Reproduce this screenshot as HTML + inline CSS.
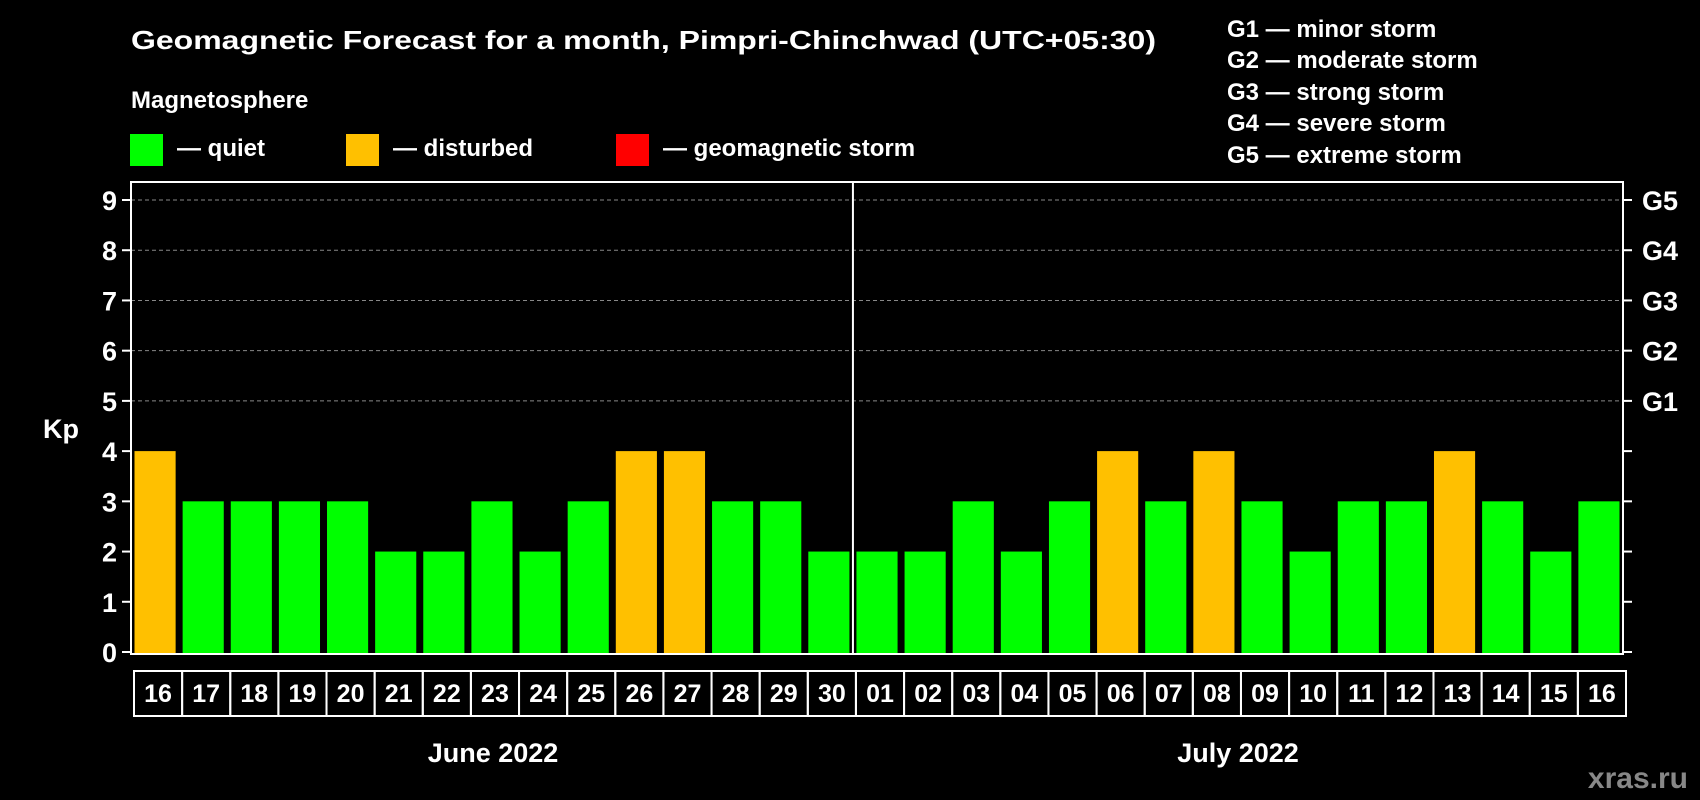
<!DOCTYPE html>
<html><head><meta charset="utf-8"><style>
html,body{margin:0;padding:0;background:#000;}
svg{display:block;font-family:"Liberation Sans",Arial,sans-serif;font-weight:bold;}
</style></head><body>
<svg id="chart" width="1700" height="800" viewBox="0 0 1700 800" xmlns="http://www.w3.org/2000/svg">
<rect width="1700" height="800" fill="#000"/>
<text x="131" y="49" fill="#fff" font-size="26" textLength="1025" lengthAdjust="spacingAndGlyphs">Geomagnetic Forecast for a month, Pimpri-Chinchwad (UTC+05:30)</text>
<text x="131" y="108" fill="#fff" font-size="24">Magnetosphere</text>
<rect x="130" y="134" width="33" height="32" fill="#00ff00"/>
<text x="177" y="156" fill="#fff" font-size="24">— quiet</text>
<rect x="346" y="134" width="33" height="32" fill="#ffc000"/>
<text x="393" y="156" fill="#fff" font-size="24">— disturbed</text>
<rect x="616" y="134" width="33" height="32" fill="#ff0000"/>
<text x="663" y="156" fill="#fff" font-size="24">— geomagnetic storm</text>
<g fill="#fff" font-size="24">
<text x="1227" y="37">G1 — minor storm</text>
<text x="1227" y="68">G2 — moderate storm</text>
<text x="1227" y="100">G3 — strong storm</text>
<text x="1227" y="131">G4 — severe storm</text>
<text x="1227" y="163">G5 — extreme storm</text>
</g>
<text x="43" y="438" fill="#fff" font-size="27">Kp</text>
<g id="grid"></g>
<g id="bars"></g>
<g id="axes"></g>
<text x="493" y="762" fill="#fff" font-size="27" text-anchor="middle">June 2022</text>
<text x="1238" y="762" fill="#fff" font-size="27" text-anchor="middle">July 2022</text>
<text x="1688" y="788" fill="#888" font-size="30" text-anchor="end">xras.ru</text>
</svg>
<script>
const days = ["16","17","18","19","20","21","22","23","24","25","26","27","28","29","30","01","02","03","04","05","06","07","08","09","10","11","12","13","14","15","16"];
const kpValues = [4,3,3,3,3,2,2,3,2,3,4,4,3,3,2,2,2,3,2,3,4,3,4,3,2,3,3,4,3,2,3];
const yTicks = [0,1,2,3,4,5,6,7,8,9];
const gLabels = ["G1","G2","G3","G4","G5"];
const gLevels = [5,6,7,8,9];

const NS = "http://www.w3.org/2000/svg";
const L = 131, R = 1623, T = 182, B = 654, Y0 = 652, Y9 = 200;
const slot = (R - L) / days.length;
const yScale = v => Y0 + (Y9 - Y0) * v / 9;
const xScale = i => L + i * slot;
function mk(tag, attrs, parent) {
  const e = document.createElementNS(NS, tag);
  for (const k in attrs) e.setAttribute(k, attrs[k]);
  parent.appendChild(e);
  return e;
}
const grid = document.getElementById('grid');
const bars = document.getElementById('bars');
const axes = document.getElementById('axes');

gLevels.forEach(v => {
  const l = mk('line', {x1: L, x2: R, y1: yScale(v), y2: yScale(v), stroke: '#888', 'stroke-dasharray': '4,3', 'stroke-width': 1}, grid);
  
  
});

kpValues.forEach((v, i) => {
  const r = mk('rect', {x: xScale(i) + 3.5, y: yScale(v), width: slot - 7, height: Y0 - yScale(v) + 2, fill: v >= 5 ? '#ff0000' : (v >= 4 ? '#ffc000' : '#00ff00')}, bars);
  
  
});

const frame = mk('rect', {x: L, y: T, width: R - L, height: B - T, fill: 'none', stroke: '#fff', 'stroke-width': 2}, axes);


const sep = mk('line', {x1: xScale(15), x2: xScale(15), y1: T, y2: B, stroke: '#fff', 'stroke-width': 2}, axes);



yTicks.forEach(v => {
  const y = yScale(v);
  const t1 = mk('line', {x1: L - 9, x2: L, y1: y, y2: y, stroke: '#fff', 'stroke-width': 2}, axes);
  
  
  const t2 = mk('line', {x1: R, x2: R + 9, y1: y, y2: y, stroke: '#fff', 'stroke-width': 2}, axes);
  
  
  const tx = mk('text', {x: 117, y: y + 10, fill: '#fff', 'font-size': 27, 'text-anchor': 'end'}, axes);
  tx.textContent = v;
  
  
});
gLabels.forEach((g, i) => {
  const tx = mk('text', {x: 1642, y: yScale(gLevels[i]) + 10, fill: '#fff', 'font-size': 27}, axes);
  tx.textContent = g;
  
  
});
days.forEach((d, i) => {
  const x = xScale(i) + 3;
  const box = mk('rect', {x: x, y: 671, width: slot, height: 45, fill: 'none', stroke: '#fff', 'stroke-width': 2}, axes);
  
  
  const tx = mk('text', {x: x + slot / 2, y: 702, fill: '#fff', 'font-size': 25, 'text-anchor': 'middle'}, axes);
  tx.textContent = d;
  
  
});
</script>
</body></html>
